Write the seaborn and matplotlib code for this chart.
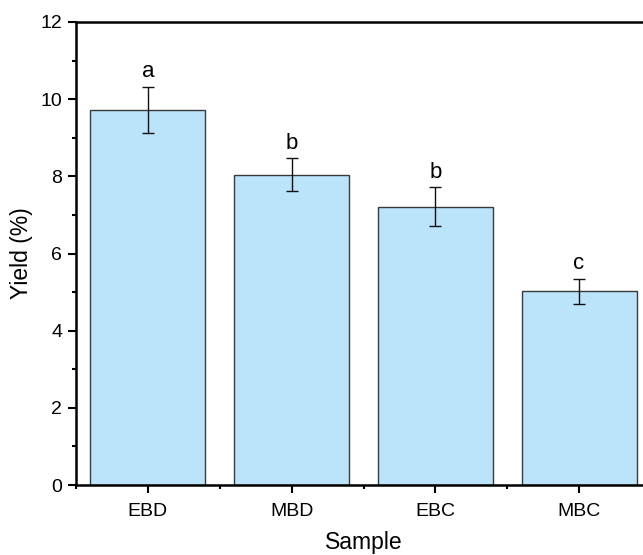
import numpy as np
import pandas as pd
import matplotlib
matplotlib.use("Agg")
import matplotlib.pyplot as plt
from matplotlib.ticker import MultipleLocator
import seaborn as sns

samples = ["EBD", "MBD", "EBC", "MBC"]
yields = [9.72, 8.04, 7.21, 5.02]
errors = [0.60, 0.43, 0.51, 0.32]
letters = ["a", "b", "b", "c"]

df = pd.DataFrame({"Sample": samples, "Yield": yields})

sns.set_style("ticks")
plt.rcParams["font.family"] = ["Liberation Sans", "DejaVu Sans"]
plt.rcParams["text.color"] = "black"
plt.rcParams["axes.labelcolor"] = "black"
plt.rcParams["xtick.color"] = "black"
plt.rcParams["ytick.color"] = "black"

fig = plt.figure(figsize=(6.43, 5.55), dpi=100)
ax = fig.add_axes([76 / 643, 70 / 555, 575 / 643, 463 / 555])

sns.barplot(data=df, x="Sample", y="Yield", color="#BBE3FA", width=0.8,
            edgecolor="#3a3a3a", linewidth=1.0, errorbar=None, ax=ax,
            saturation=1)

xpos = np.arange(len(samples))
ax.errorbar(xpos, yields, yerr=errors, fmt="none", ecolor="#111111",
            elinewidth=1.0, capsize=4.5, capthick=1.0)

# significance letters above error bars
for x, y, e, lab in zip(xpos, yields, errors, letters):
    ax.text(x, y + e + 0.12, lab, ha="center", va="bottom", fontsize=16)

ax.set_xlim(-0.5, len(samples) - 0.5)
ax.set_ylim(0, 12)
ax.yaxis.set_major_locator(MultipleLocator(2))
ax.yaxis.set_minor_locator(MultipleLocator(1))
ax.set_xticks(xpos)
ax.set_xticks(np.arange(-0.5, len(samples), 1), minor=True)

for side in ["left", "bottom", "top", "right"]:
    ax.spines[side].set_linewidth(1.8)
    ax.spines[side].set_color("black")

ax.tick_params(axis="both", which="major", direction="out", length=6,
               width=1.5, labelsize=14, pad=4)
ax.tick_params(axis="both", which="minor", direction="out", length=3,
               width=1.5)
ax.tick_params(axis="x", which="major", pad=7)

ax.set_xlabel("Sample", fontsize=16.5, labelpad=8)
ax.set_ylabel("Yield (%)", fontsize=16.5, labelpad=5)

fig.savefig("out.png", dpi=100)
